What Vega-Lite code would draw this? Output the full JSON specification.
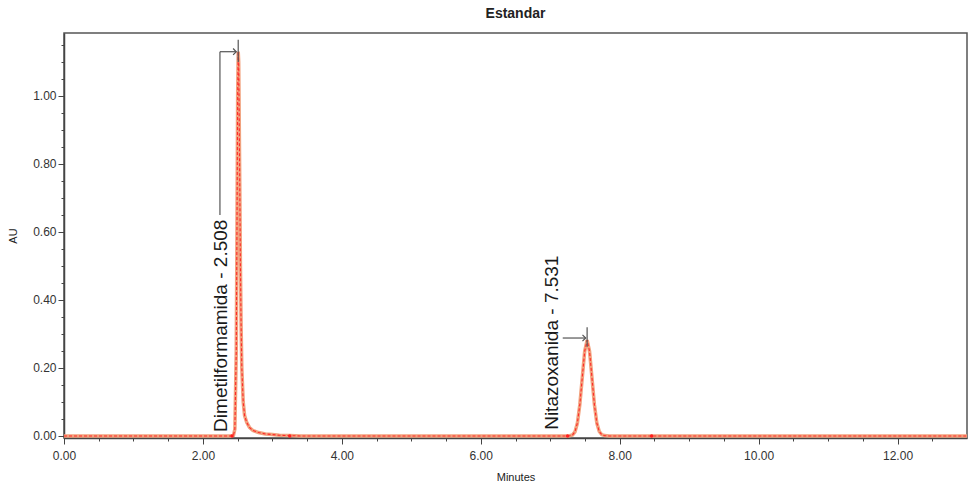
{
  "$schema": "https://vega.github.io/schema/vega-lite/v6.json",
  "width": 903,
  "height": 405,
  "autosize": {"type": "none"},
  "padding": {"left": 64, "top": 33, "right": 3, "bottom": 51},
  "title": {"text": "Estandar", "fontSize": 14, "font": "Liberation Sans", "fontWeight": "bold", "color": "#222", "offset": 12, "anchor": "middle"},
  "config": {"view": {"stroke": "#555", "strokeWidth": 1.5}, "font": "Liberation Sans"},
  "datasets": {
    "signal": [
      {"t": 0, "au": 0},
      {"t": 2.40, "au": 0},
      {"t": 2.44, "au": 0.002},
      {"t": 2.46, "au": 0.02},
      {"t": 2.48, "au": 0.25},
      {"t": 2.49, "au": 0.6},
      {"t": 2.50, "au": 1.0},
      {"t": 2.508, "au": 1.13},
      {"t": 2.515, "au": 1.10},
      {"t": 2.52, "au": 1.0},
      {"t": 2.53, "au": 0.75},
      {"t": 2.54, "au": 0.5},
      {"t": 2.55, "au": 0.32},
      {"t": 2.56, "au": 0.2},
      {"t": 2.58, "au": 0.1},
      {"t": 2.60, "au": 0.06},
      {"t": 2.63, "au": 0.04},
      {"t": 2.67, "au": 0.025},
      {"t": 2.72, "au": 0.016},
      {"t": 2.80, "au": 0.01},
      {"t": 2.90, "au": 0.006},
      {"t": 3.00, "au": 0.004},
      {"t": 3.10, "au": 0.002},
      {"t": 3.25, "au": 0.001},
      {"t": 3.40, "au": 0},
      {"t": 7.25, "au": 0},
      {"t": 7.28, "au": 0.0005},
      {"t": 7.321, "au": 0.003},
      {"t": 7.356, "au": 0.012},
      {"t": 7.391, "au": 0.038},
      {"t": 7.426, "au": 0.092},
      {"t": 7.461, "au": 0.171},
      {"t": 7.496, "au": 0.249},
      {"t": 7.531, "au": 0.282},
      {"t": 7.566, "au": 0.249},
      {"t": 7.601, "au": 0.171},
      {"t": 7.636, "au": 0.092},
      {"t": 7.671, "au": 0.038},
      {"t": 7.706, "au": 0.013},
      {"t": 7.741, "au": 0.004},
      {"t": 7.78, "au": 0.001},
      {"t": 7.85, "au": 0},
      {"t": 13, "au": 0}
    ],
    "marks": [
      {"t": 2.42, "au": 0},
      {"t": 3.25, "au": 0},
      {"t": 7.25, "au": 0},
      {"t": 8.46, "au": 0}
    ],
    "labels": [
      {"t": 2.345, "au": 0.012, "label": "Dimetilformamida - 2.508"},
      {"t": 7.11, "au": 0.018, "label": "Nitazoxanida - 7.531"}
    ],
    "leaders": [
      {"t": 2.245, "au": 0.65, "t2": 2.245, "au2": 1.13},
      {"t": 2.245, "au": 1.13, "t2": 2.48, "au2": 1.13},
      {"t": 2.508, "au": 1.10, "t2": 2.508, "au2": 1.165},
      {"t": 7.18, "au": 0.288, "t2": 7.51, "au2": 0.288},
      {"t": 7.531, "au": 0.262, "t2": 7.531, "au2": 0.32}
    ],
    "arrows": [
      {"t": 2.48, "au": 1.13},
      {"t": 7.51, "au": 0.288}
    ]
  },
  "layer": [
    {
      "data": {"name": "signal"},
      "mark": {"type": "line", "color": "#f2a27e", "strokeWidth": 3.5, "clip": true},
      "encoding": {
        "x": {"field": "t", "type": "quantitative", "scale": {"domain": [0, 13], "nice": false, "zero": false},
          "axis": {"orient": "bottom", "values": [0, 2, 4, 6, 8, 10, 12], "format": ".2f", "title": "Minutes", "titleFontSize": 11, "titleFontWeight": "normal", "titleColor": "#222", "titlePadding": 10, "labelFontSize": 12, "labelColor": "#333", "labelPadding": 6, "labelFlush": false, "tickSize": 6, "tickColor": "#444", "domainColor": "#444", "domainWidth": 1.5, "grid": false}},
        "y": {"field": "au", "type": "quantitative", "scale": {"domain": [-0.006, 1.185], "nice": false, "zero": false},
          "axis": {"orient": "left", "values": [0, 0.2, 0.4, 0.6, 0.8, 1.0], "format": ".2f", "title": "AU", "titleFontSize": 11, "titleFontWeight": "normal", "titleColor": "#222", "titlePadding": 14, "labelFontSize": 12, "labelColor": "#333", "labelPadding": 2, "tickSize": 6, "tickColor": "#444", "domainColor": "#444", "domainWidth": 1.5, "grid": false}}
      }
    },
    {
      "data": {"name": "signal"},
      "mark": {"type": "line", "color": "#ff2a2a", "strokeWidth": 1.1, "strokeDash": [3, 2], "clip": true},
      "encoding": {
        "x": {"field": "t", "type": "quantitative",
          "axis": {"orient": "bottom", "values": [0.5, 1, 1.5, 2.5, 3, 3.5, 4.5, 5, 5.5, 6.5, 7, 7.5, 8.5, 9, 9.5, 10.5, 11, 11.5, 12.5], "labels": false, "domain": false, "title": null, "tickSize": 3, "tickColor": "#444", "grid": false}},
        "y": {"field": "au", "type": "quantitative",
          "axis": {"orient": "left", "values": [0.05, 0.1, 0.15, 0.25, 0.3, 0.35, 0.45, 0.5, 0.55, 0.65, 0.7, 0.75, 0.85, 0.9, 0.95, 1.05, 1.1, 1.15], "labels": false, "domain": false, "title": null, "tickSize": 3, "tickColor": "#444", "grid": false}}
      }
    },
    {
      "data": {"name": "marks"},
      "mark": {"type": "point", "filled": true, "color": "#ff2020", "size": 12, "opacity": 1},
      "encoding": {
        "x": {"field": "t", "type": "quantitative", "axis": null},
        "y": {"field": "au", "type": "quantitative", "axis": null}
      }
    },
    {
      "data": {"name": "leaders"},
      "mark": {"type": "rule", "color": "#555", "strokeWidth": 1.2},
      "encoding": {
        "x": {"field": "t", "type": "quantitative", "axis": null},
        "y": {"field": "au", "type": "quantitative", "axis": null},
        "x2": {"field": "t2"},
        "y2": {"field": "au2"}
      }
    },
    {
      "data": {"name": "arrows"},
      "mark": {"type": "point", "shape": "M-1,-1L0,0L-1,1", "filled": false, "color": "#555", "strokeWidth": 1.2, "size": 40, "opacity": 1},
      "encoding": {
        "x": {"field": "t", "type": "quantitative", "axis": null},
        "y": {"field": "au", "type": "quantitative", "axis": null}
      }
    },
    {
      "data": {"name": "labels"},
      "mark": {"type": "text", "angle": 270, "align": "left", "baseline": "alphabetic", "fontSize": 19, "font": "Liberation Sans", "color": "#1a1a1a"},
      "encoding": {
        "x": {"field": "t", "type": "quantitative", "axis": null},
        "y": {"field": "au", "type": "quantitative", "axis": null},
        "text": {"field": "label"}
      }
    }
  ],
  "resolve": {"axis": {"x": "independent", "y": "independent"}}
}
